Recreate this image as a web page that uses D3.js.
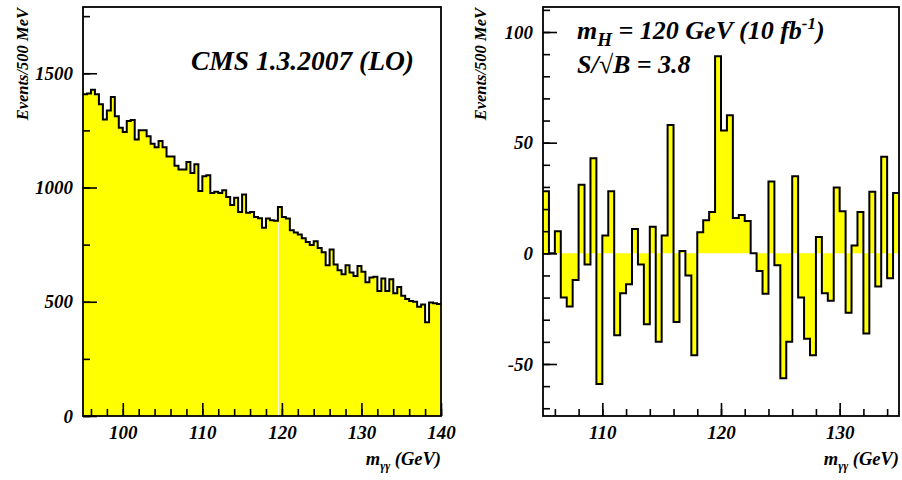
<!DOCTYPE html>
<html>
<head>
<meta charset="utf-8">
<script src="https://cdn.jsdelivr.net/npm/d3@7"></script>
<style>
  body { margin: 0; background: #fff; }
  svg text {
    font-family: "Liberation Serif", "Times New Roman", Times, serif;
    font-weight: bold;
    font-style: italic;
    fill: #000;
  }
</style>
</head>
<body>
<svg id="chart" width="902" height="480"></svg>
<script>
// Diphoton invariant mass, 0.5 GeV bins starting at 95 GeV (events per bin)
const bgStart = 95;
const bgCounts = [
  1408, 1411, 1428, 1408, 1364, 1298, 1337, 1396, 1312, 1262,
  1243, 1291, 1296, 1210, 1251, 1251, 1224, 1191, 1176, 1204,
  1176, 1136, 1136, 1095, 1079, 1079, 1112, 1064, 1102, 985,
  1049, 1054, 976, 981, 976, 988, 959, 923, 955, 893,
  969, 889, 893, 871, 866, 824, 864, 857, 854, 915,
  871, 864, 813, 803, 794, 778, 761, 748, 765, 735,
  717, 660, 729, 663, 638, 620, 660, 628, 613, 656,
  631, 585, 606, 609, 547, 602, 547, 599, 537, 565,
  526, 512, 503, 500, 478, 488, 410, 497, 493, 490
];

// Background-subtracted excess, 0.5 GeV bins starting at 105 GeV
const sigStart = 105;
const sigCounts = [
  28, 0, 10, -20, -24, -12, 31, -5, 43, -59,
  8, 28, -37, -18, -14, 11, -5, -32, 12, -40,
  8, 58, -31, 1, -10, -46, 9.5, 15, 18.7, 89,
  55.5, 62.4, 16, 17.3, 14.6, 0, -8, -18.3, 32.4, -5.4,
  -56.4, -40, 34.8, -20, -38.6, -46, 7.4, -18, -21.4, 29.7,
  19, -26.8, 3.5, 18.7, -36.2, 27.8, -15, 43.6, -11.3, 27.3
];

const binWidth = 0.5;
const signalBinEdge = 119.5;

const leftXTicks = [100, 110, 120, 130, 140];
const leftYTicks = [0, 500, 1000, 1500];
const rightXTicks = [110, 120, 130];
const rightYTicks = [-50, 0, 50, 100];

const svg = d3.select("#chart");

function drawPanel(cfg) {
  const g = svg.append("g");
  const x = d3.scaleLinear().domain(cfg.xDomain).range([cfg.left, cfg.right]);
  const y = d3.scaleLinear().domain(cfg.yDomain).range([cfg.bottom, cfg.top]);

  const pts = cfg.counts.map((v, i) => ({ e: cfg.start + i * binWidth, v }));
  pts.push({ e: cfg.start + cfg.counts.length * binWidth, v: cfg.counts[cfg.counts.length - 1] });

  const area = d3.area()
    .curve(d3.curveStepAfter)
    .x(d => x(d.e))
    .y0(y(0))
    .y1(d => y(d.v));
  const line = d3.line()
    .curve(d3.curveStepAfter)
    .x(d => x(d.e))
    .y(d => y(d.v));

  g.append("path").attr("d", area(pts)).attr("fill", "#ffff00");

  if (cfg.gapAt != null) {
    const i = Math.round((cfg.gapAt - cfg.start) / binWidth);
    const top = Math.min(cfg.counts[i - 1], cfg.counts[i]);
    g.append("line")
      .attr("x1", x(cfg.gapAt) + 0.5).attr("x2", x(cfg.gapAt) + 0.5)
      .attr("y1", y(0)).attr("y2", y(top) + 2)
      .attr("stroke", "#fffff0").attr("stroke-width", 1);
  }

  g.append("path").attr("d", line(pts))
    .attr("fill", "none").attr("stroke", "#000").attr("stroke-width", 2)
    .attr("stroke-linejoin", "miter");

  // minor ticks
  const xm = g.append("g").attr("transform", `translate(0,${cfg.bottom})`)
    .call(d3.axisBottom(x).tickValues(cfg.xMinor).tickSize(-7).tickFormat(""));
  const ym = g.append("g").attr("transform", `translate(${cfg.left},0)`)
    .call(d3.axisLeft(y).tickValues(cfg.yMinor).tickSize(-7).tickFormat(""));
  // major ticks with labels
  const xa = g.append("g").attr("transform", `translate(0,${cfg.bottom})`)
    .call(d3.axisBottom(x).tickValues(cfg.xTicks).tickSize(-13).tickPadding(10)
      .tickFormat(d => String(d)));
  const ya = g.append("g").attr("transform", `translate(${cfg.left},0)`)
    .call(d3.axisLeft(y).tickValues(cfg.yTicks).tickSize(-14).tickPadding(10)
      .tickFormat(d => String(d)));

  [xm, ym, xa, ya].forEach(a => {
    a.select(".domain").remove();
    a.selectAll(".tick line").attr("stroke", "#000").attr("stroke-width", 1.6);
    a.selectAll("text").style("font-size", "19px");
  });

  g.append("rect")
    .attr("x", cfg.left).attr("y", cfg.top)
    .attr("width", cfg.right - cfg.left).attr("height", cfg.bottom - cfg.top)
    .attr("fill", "none").attr("stroke", "#000").attr("stroke-width", 1.8);

  // axis titles
  const xt = g.append("text")
    .attr("x", cfg.right).attr("y", 465)
    .attr("text-anchor", "end").style("font-size", "18.5px");
  xt.append("tspan").text("m");
  xt.append("tspan").attr("dy", 5).style("font-size", "12px").text("γγ");
  xt.append("tspan").attr("dy", -5).text(" (GeV)");

  g.append("text")
    .attr("transform", `translate(${cfg.yTitleX},${cfg.top + 1}) rotate(-90)`)
    .attr("text-anchor", "end").style("font-size", "16.5px")
    .text("Events/500 MeV");
  return g;
}

drawPanel({
  left: 83, right: 441, top: 7, bottom: 416,
  xDomain: [95, 140], yDomain: [0, 1790],
  start: bgStart, counts: bgCounts,
  xTicks: leftXTicks, yTicks: leftYTicks,
  xMinor: d3.range(96, 140.1, 2), yMinor: d3.range(0, 1790, 250),
  yTitleX: 28, gapAt: signalBinEdge
});

drawPanel({
  left: 543, right: 899, top: 7, bottom: 416,
  xDomain: [105, 135], yDomain: [-73.5, 111.3],
  start: sigStart, counts: sigCounts,
  xTicks: rightXTicks, yTicks: rightYTicks,
  xMinor: d3.range(106, 135, 2), yMinor: d3.range(-70, 111, 10),
  yTitleX: 486, gapAt: null
});

// annotations
svg.append("text")
  .attr("x", 414).attr("y", 70).attr("text-anchor", "end")
  .style("font-size", "27.5px")
  .text("CMS 1.3.2007 (LO)");

const t1 = svg.append("text").attr("x", 577).attr("y", 39).style("font-size", "26px");
t1.append("tspan").text("m");
t1.append("tspan").attr("dy", 7).style("font-size", "19px").text("H");
t1.append("tspan").attr("dy", -7).text(" = 120 GeV (10 fb");
t1.append("tspan").attr("dy", -10).style("font-size", "17px").text("-1");
t1.append("tspan").attr("dy", 10).text(")");

svg.append("text").attr("x", 577).attr("y", 73).style("font-size", "26px")
  .text("S/√B = 3.8");
</script>
</body>
</html>
